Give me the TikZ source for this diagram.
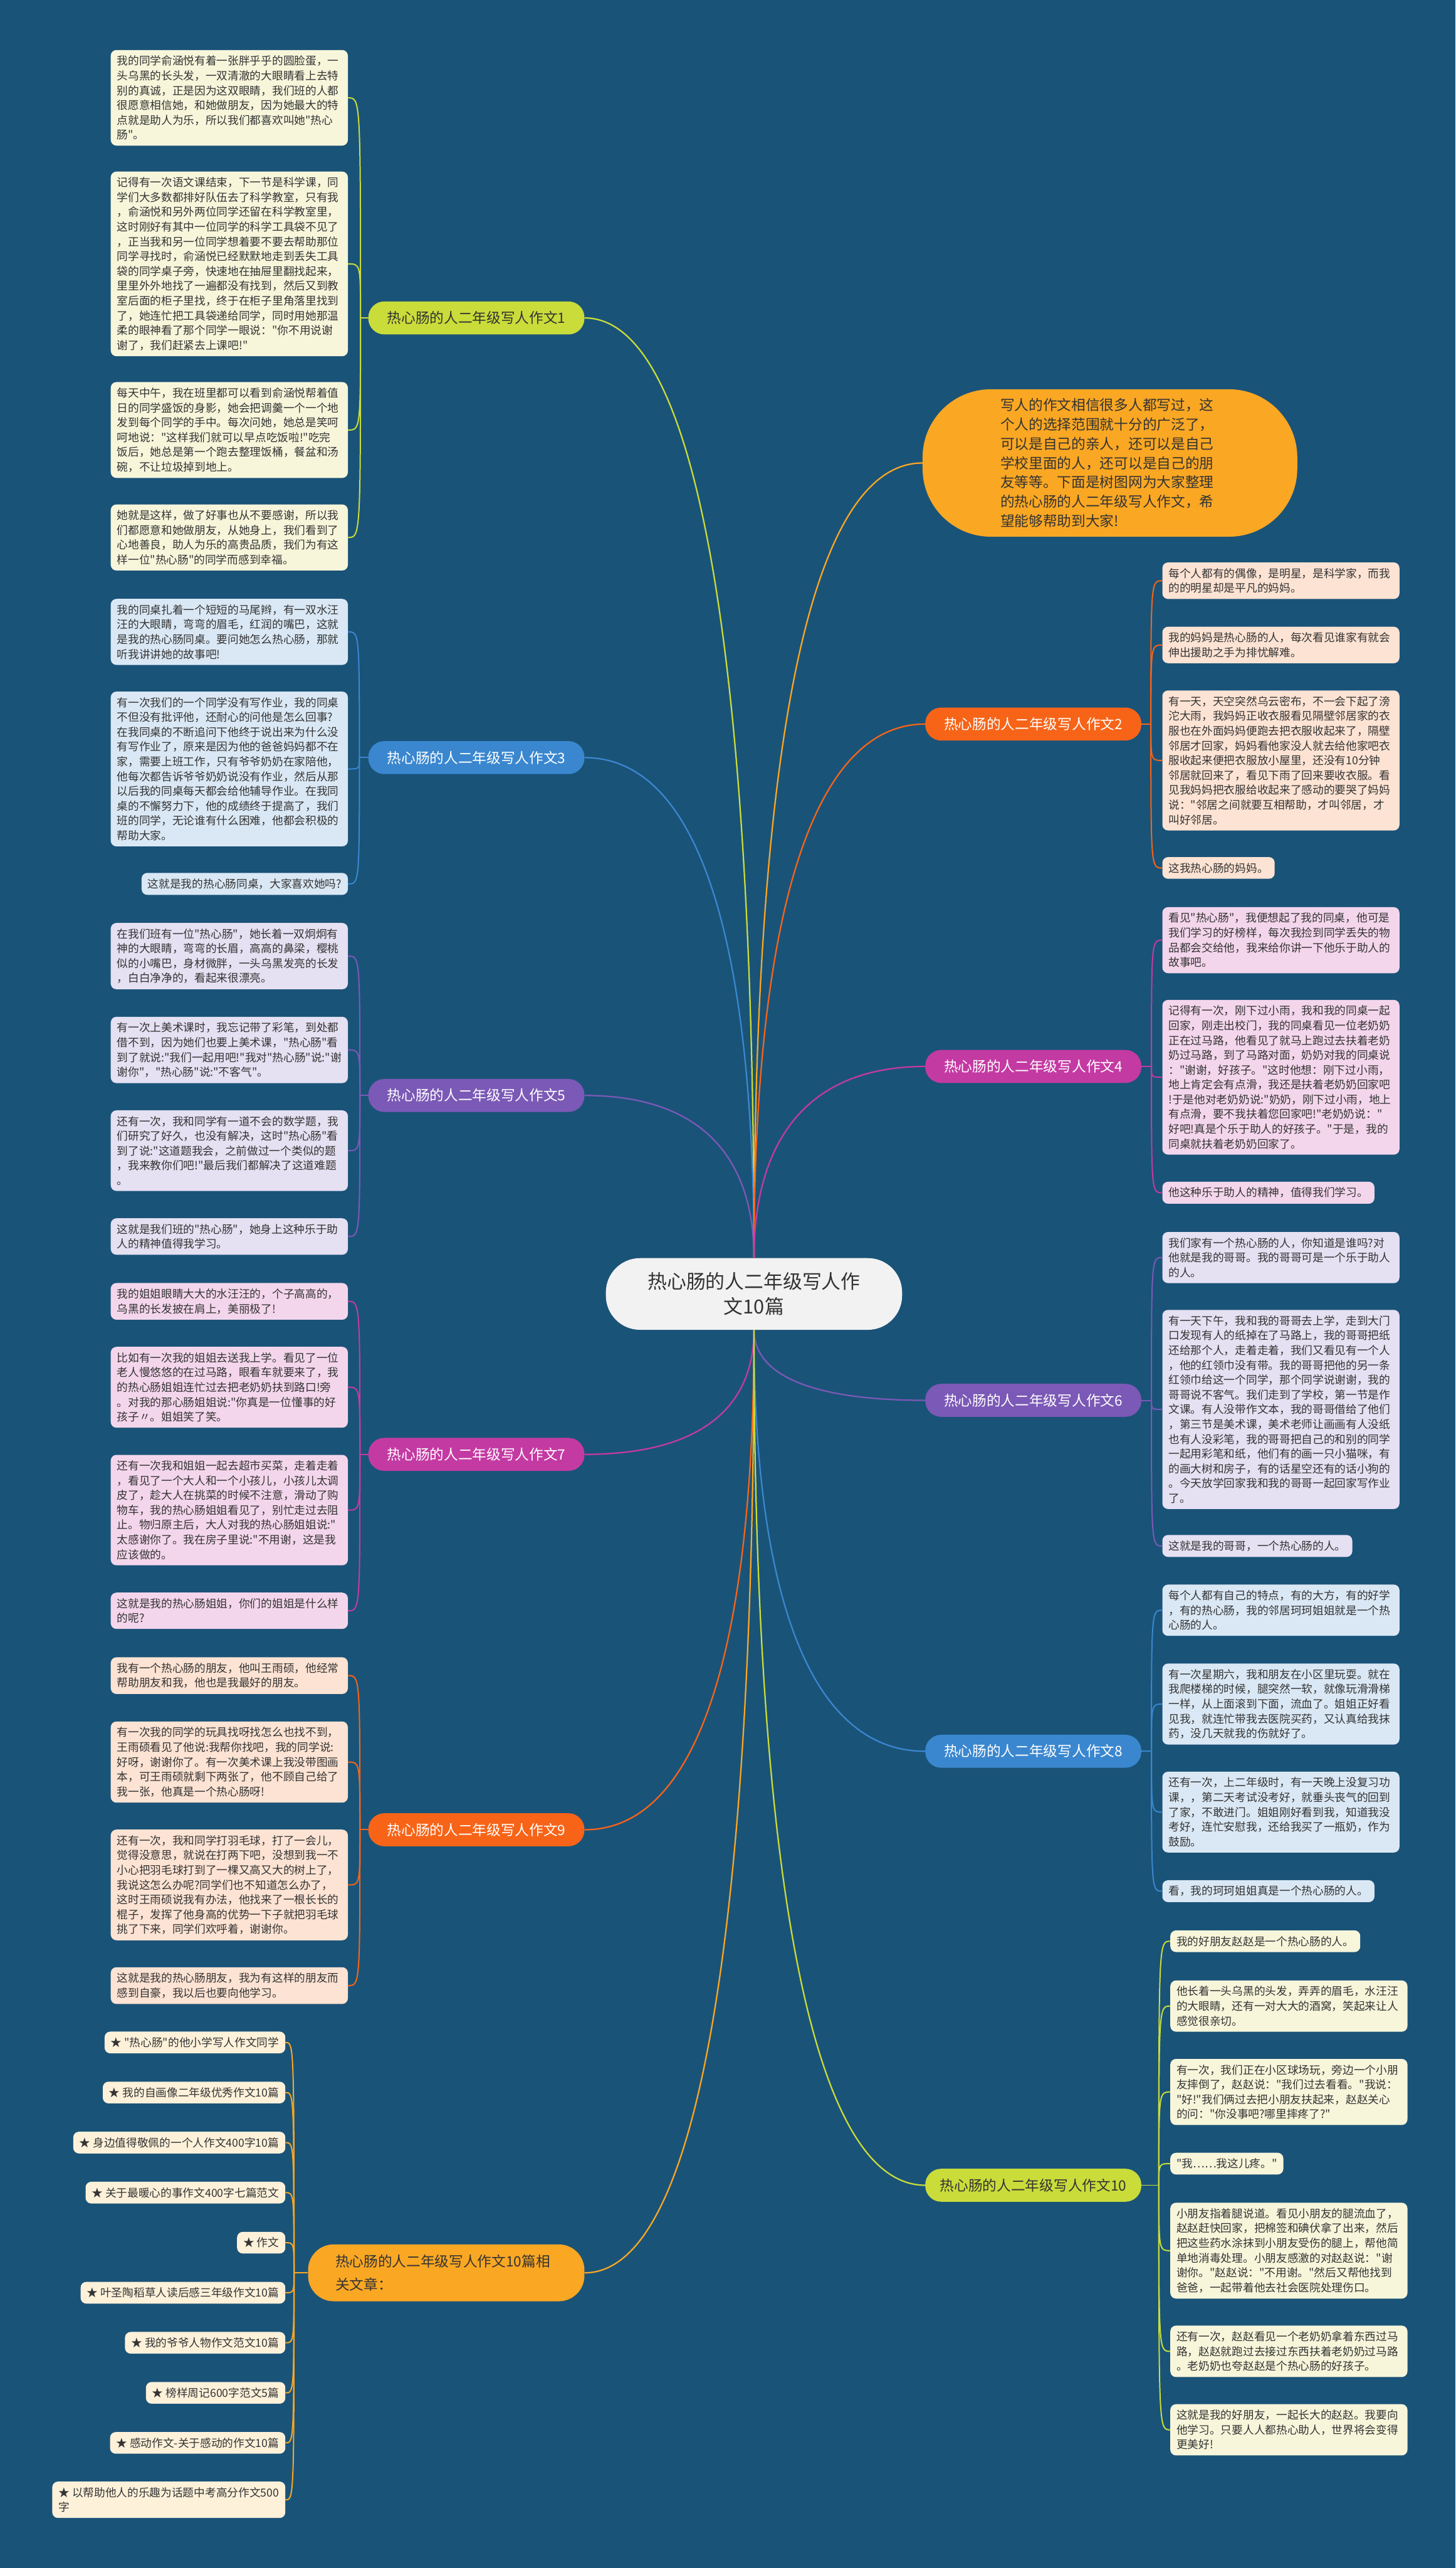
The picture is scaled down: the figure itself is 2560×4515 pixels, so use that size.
\documentclass[tikz,border=0pt]{standalone}
\usepackage{fontspec}
\newfontfamily\cjk{Noto Sans CJK SC}
\usetikzlibrary{positioning}

\definecolor{bg}{RGB}{26,83,120}
\definecolor{txt}{RGB}{51,51,51}
\definecolor{cgreen}{RGB}{201,220,58}
\definecolor{corange}{RGB}{247,100,24}
\definecolor{cblue}{RGB}{58,135,207}
\definecolor{cmagenta}{RGB}{196,58,163}
\definecolor{cpurple}{RGB}{123,89,182}
\definecolor{cgold}{RGB}{250,167,35}
\definecolor{fgreen}{RGB}{247,246,219}
\definecolor{forange}{RGB}{253,227,211}
\definecolor{fblue}{RGB}{218,232,245}
\definecolor{fmagenta}{RGB}{244,214,236}
\definecolor{fpurple}{RGB}{229,224,242}
\definecolor{fgold}{RGB}{253,241,218}
\definecolor{fmain}{RGB}{242,242,242}

\begin{document}
\begin{tikzpicture}[x=1pt, y=-1pt,
  leafbox/.style={rectangle, rounded corners=10pt, inner xsep=11pt, inner ysep=10pt, align=left, text=txt, font=\cjk\fontsize{19.5}{26}\selectfont},
  leaf/.style={leafbox, text width=395pt},
  branch/.style={rectangle, rounded corners=28pt, minimum width=380pt, minimum height=58pt, inner xsep=20pt, text=white, font=\cjk\fontsize{25}{30}\selectfont},
  link/.style={line width=2.5pt},
  twig/.style={line width=2.2pt}] %koordinate su u pikselima, y ide prema dolje

\fill[bg] (0,0) rectangle (2560,4515);
\useasboundingbox (0,0) rectangle (2560,4515);

%sredisnji cvor i uvod
\node (main) [fill=fmain, rounded corners=60pt, minimum width=521pt, minimum height=126pt, align=center, text=txt, font=\cjk\fontsize{34}{44}\selectfont] at (1326,2275) {热心肠的人二年级写人作\\文10篇};
\node (intro) [fill=cgold, rounded corners=120pt, text width=385pt, inner xsep=137pt, inner ysep=16pt, align=left, text=txt, font=\cjk\fontsize{25}{34}\selectfont] at (1952,814) {写人的作文相信很多人都写过，这\\个人的选择范围就十分的广泛了，\\可以是自己的亲人，还可以是自己\\学校里面的人，还可以是自己的朋\\友等等。下面是树图网为大家整理\\的热心肠的人二年级写人作文，希\\望能够帮助到大家!};

%grane lijevo
\node (b1) [branch, fill=cgreen, text=txt, anchor=east] at (1028,559) {热心肠的人二年级写人作文1};
\node (b3) [branch, fill=cblue, anchor=east] at (1028,1332) {热心肠的人二年级写人作文3};
\node (b5) [branch, fill=cpurple, anchor=east] at (1028,1926) {热心肠的人二年级写人作文5};
\node (b7) [branch, fill=cmagenta, anchor=east] at (1028,2557) {热心肠的人二年级写人作文7};
\node (b9) [branch, fill=corange, anchor=east] at (1028,3217) {热心肠的人二年级写人作文9};
\node (b11) [branch, fill=cgold, text=txt, anchor=east, text width=390pt, inner xsep=48pt, inner ysep=10pt, align=left, rounded corners=45pt, minimum height=100pt, font=\cjk\fontsize{25}{40}\selectfont] at (1028,3996) {热心肠的人二年级写人作文10篇相\\关文章：};

%grane desno
\node (b2) [branch, fill=corange, anchor=west] at (1627,1273) {热心肠的人二年级写人作文2};
\node (b4) [branch, fill=cmagenta, anchor=west] at (1627,1875) {热心肠的人二年级写人作文4};
\node (b6) [branch, fill=cpurple, anchor=west] at (1627,2462) {热心肠的人二年级写人作文6};
\node (b8) [branch, fill=cblue, anchor=west] at (1627,3079) {热心肠的人二年级写人作文8};
\node (b10) [branch, fill=cgreen, text=txt, anchor=west] at (1627,3842) {热心肠的人二年级写人作文10};

%listovi grane 1
\node (l1a) [leaf, fill=fgreen, anchor=east] at (612,172) {我的同学俞涵悦有着一张胖乎乎的圆脸蛋，一\\头乌黑的长头发，一双清澈的大眼睛看上去特\\别的真诚，正是因为这双眼睛，我们班的人都\\很愿意相信她，和她做朋友，因为她最大的特\\点就是助人为乐，所以我们都喜欢叫她"热心\\肠"。};
\node (l1b) [leaf, fill=fgreen, anchor=east] at (612,464) {记得有一次语文课结束，下一节是科学课，同\\学们大多数都排好队伍去了科学教室，只有我\\，俞涵悦和另外两位同学还留在科学教室里，\\这时刚好有其中一位同学的科学工具袋不见了\\，正当我和另一位同学想着要不要去帮助那位\\同学寻找时，俞涵悦已经默默地走到丢失工具\\袋的同学桌子旁，快速地在抽屉里翻找起来，\\里里外外地找了一遍都没有找到，然后又到教\\室后面的柜子里找，终于在柜子里角落里找到\\了，她连忙把工具袋递给同学，同时用她那温\\柔的眼神看了那个同学一眼说："你不用说谢\\谢了，我们赶紧去上课吧!"};
\node (l1c) [leaf, fill=fgreen, anchor=east] at (612,756) {每天中午，我在班里都可以看到俞涵悦帮着值\\日的同学盛饭的身影，她会把调羹一个一个地\\发到每个同学的手中。每次问她，她总是笑呵\\呵地说："这样我们就可以早点吃饭啦!"吃完\\饭后，她总是第一个跑去整理饭桶，餐盆和汤\\碗，不让垃圾掉到地上。};
\node (l1d) [leaf, fill=fgreen, anchor=east] at (612,945) {她就是这样，做了好事也从不要感谢，所以我\\们都愿意和她做朋友，从她身上，我们看到了\\心地善良，助人为乐的高贵品质，我们为有这\\样一位"热心肠"的同学而感到幸福。};

%listovi grane 3
\node (l3a) [leaf, fill=fblue, anchor=east] at (612,1111) {我的同桌扎着一个短短的马尾辫，有一双水汪\\汪的大眼睛，弯弯的眉毛，红润的嘴巴，这就\\是我的热心肠同桌。要问她怎么热心肠，那就\\听我讲讲她的故事吧!};
\node (l3b) [leaf, fill=fblue, anchor=east] at (612,1352) {有一次我们的一个同学没有写作业，我的同桌\\不但没有批评他，还耐心的问他是怎么回事?\\在我同桌的不断追问下他终于说出来为什么没\\有写作业了，原来是因为他的爸爸妈妈都不在\\家，需要上班工作，只有爷爷奶奶在家陪他，\\他每次都告诉爷爷奶奶说没有作业，然后从那\\以后我的同桌每天都会给他辅导作业。在我同\\桌的不懈努力下，他的成绩终于提高了，我们\\班的同学，无论谁有什么困难，他都会积极的\\帮助大家。};
\node (l3c) [leafbox, fill=fblue, anchor=east] at (612,1554) {这就是我的热心肠同桌，大家喜欢她吗?};

%listovi grane 5
\node (l5a) [leaf, fill=fpurple, anchor=east] at (612,1681) {在我们班有一位"热心肠"，她长着一双炯炯有\\神的大眼睛，弯弯的长眉，高高的鼻梁，樱桃\\似的小嘴巴，身材微胖，一头乌黑发亮的长发\\，白白净净的，看起来很漂亮。};
\node (l5b) [leaf, fill=fpurple, anchor=east] at (612,1846) {有一次上美术课时，我忘记带了彩笔，到处都\\借不到，因为她们也要上美术课，"热心肠"看\\到了就说:"我们一起用吧!"我对"热心肠"说:"谢\\谢你"，"热心肠"说:"不客气"。};
\node (l5c) [leaf, fill=fpurple, anchor=east] at (612,2023) {还有一次，我和同学有一道不会的数学题，我\\们研究了好久，也没有解决，这时"热心肠"看\\到了说:"这道题我会，之前做过一个类似的题\\，我来教你们吧!"最后我们都解决了这道难题\\。};
\node (l5d) [leaf, fill=fpurple, anchor=east] at (612,2174) {这就是我们班的"热心肠"，她身上这种乐于助\\人的精神值得我学习。};

%listovi grane 7
\node (l7a) [leaf, fill=fmagenta, anchor=east] at (612,2288) {我的姐姐眼睛大大的水汪汪的，个子高高的，\\乌黑的长发披在肩上，美丽极了!};
\node (l7b) [leaf, fill=fmagenta, anchor=east] at (612,2439) {比如有一次我的姐姐去送我上学。看见了一位\\老人慢悠悠的在过马路，眼看车就要来了，我\\的热心肠姐姐连忙过去把老奶奶扶到路口!旁\\。对我的那心肠姐姐说:"你真是一位懂事的好\\孩子〃。姐姐笑了笑。};
\node (l7c) [leaf, fill=fmagenta, anchor=east] at (612,2655) {还有一次我和姐姐一起去超市买菜，走着走着\\，看见了一个大人和一个小孩儿，小孩儿太调\\皮了，趁大人在挑菜的时候不注意，滑动了购\\物车，我的热心肠姐姐看见了，别忙走过去阻\\止。物归原主后，大人对我的热心肠姐姐说:"\\太感谢你了。我在房子里说:"不用谢，这是我\\应该做的。};
\node (l7d) [leaf, fill=fmagenta, anchor=east] at (612,2832) {这就是我的热心肠姐姐，你们的姐姐是什么样\\的呢?};

%listovi grane 9
\node (l9a) [leaf, fill=forange, anchor=east] at (612,2946) {我有一个热心肠的朋友，他叫王雨硕，他经常\\帮助朋友和我，他也是我最好的朋友。};
\node (l9b) [leaf, fill=forange, anchor=east] at (612,3098) {有一次我的同学的玩具找呀找怎么也找不到，\\王雨硕看见了他说:我帮你找吧，我的同学说:\\好呀，谢谢你了。有一次美术课上我没带图画\\本，可王雨硕就剩下两张了，他不顾自己给了\\我一张，他真是一个热心肠呀!};
\node (l9c) [leaf, fill=forange, anchor=east] at (612,3314) {还有一次，我和同学打羽毛球，打了一会儿，\\觉得没意思，就说在打两下吧，没想到我一不\\小心把羽毛球打到了一棵又高又大的树上了，\\我说这怎么办呢?同学们也不知道怎么办了，\\这时王雨硕说我有办法，他找来了一根长长的\\棍子，发挥了他身高的优势一下子就把羽毛球\\挑了下来，同学们欢呼着，谢谢你。};
\node (l9d) [leaf, fill=forange, anchor=east] at (612,3491) {这就是我的热心肠朋友，我为有这样的朋友而\\感到自豪，我以后也要向他学习。};

%povezani clanci
\node (r1) [leafbox, fill=fgold, anchor=east] at (502,3591) {★ "热心肠"的他小学写人作文同学};
\node (r2) [leafbox, fill=fgold, anchor=east] at (502,3679) {★ 我的自画像二年级优秀作文10篇};
\node (r3) [leafbox, fill=fgold, anchor=east] at (502,3767) {★ 身边值得敬佩的一个人作文400字10篇};
\node (r4) [leafbox, fill=fgold, anchor=east] at (502,3855) {★ 关于最暖心的事作文400字七篇范文};
\node (r5) [leafbox, fill=fgold, anchor=east] at (502,3943) {★ 作文};
\node (r6) [leafbox, fill=fgold, anchor=east] at (502,4031) {★ 叶圣陶稻草人读后感三年级作文10篇};
\node (r7) [leafbox, fill=fgold, anchor=east] at (502,4119) {★ 我的爷爷人物作文范文10篇};
\node (r8) [leafbox, fill=fgold, anchor=east] at (502,4207) {★ 榜样周记600字范文5篇};
\node (r9) [leafbox, fill=fgold, anchor=east] at (502,4295) {★ 感动作文-关于感动的作文10篇};
\node (r10) [leafbox, fill=fgold, anchor=east] at (502,4395) {★ 以帮助他人的乐趣为话题中考高分作文500\\字};

%listovi grane 2
\node (l2a) [leaf, fill=forange, anchor=west] at (2044,1021) {每个人都有的偶像，是明星，是科学家，而我\\的的明星却是平凡的妈妈。};
\node (l2b) [leaf, fill=forange, anchor=west] at (2044,1134) {我的妈妈是热心肠的人，每次看见谁家有就会\\伸出援助之手为排忧解难。};
\node (l2c) [leaf, fill=forange, anchor=west] at (2044,1337) {有一天，天空突然乌云密布，不一会下起了滂\\沱大雨，我妈妈正收衣服看见隔壁邻居家的衣\\服也在外面妈妈便跑去把衣服收起来了，隔壁\\邻居才回家，妈妈看他家没人就去给他家吧衣\\服收起来便把衣服放小屋里，还没有10分钟\\邻居就回来了，看见下雨了回来要收衣服。看\\见我妈妈把衣服给收起来了感动的要哭了妈妈\\说："邻居之间就要互相帮助，才叫邻居，才\\叫好邻居。};
\node (l2d) [leafbox, fill=forange, anchor=west] at (2044,1526) {这我热心肠的妈妈。};

%listovi grane 4
\node (l4a) [leaf, fill=fmagenta, anchor=west] at (2044,1653) {看见"热心肠"，我便想起了我的同桌，他可是\\我们学习的好榜样，每次我捡到同学丢失的物\\品都会交给他，我来给你讲一下他乐于助人的\\故事吧。};
\node (l4b) [leaf, fill=fmagenta, anchor=west] at (2044,1894) {记得有一次，刚下过小雨，我和我的同桌一起\\回家，刚走出校门，我的同桌看见一位老奶奶\\正在过马路，他看见了就马上跑过去扶着老奶\\奶过马路，到了马路对面，奶奶对我的同桌说\\："谢谢，好孩子。"这时他想：刚下过小雨，\\地上肯定会有点滑，我还是扶着老奶奶回家吧\\!于是他对老奶奶说:"奶奶，刚下过小雨，地上\\有点滑，要不我扶着您回家吧!"老奶奶说："\\好吧!真是个乐于助人的好孩子。"于是，我的\\同桌就扶着老奶奶回家了。};
\node (l4c) [leafbox, fill=fmagenta, anchor=west] at (2044,2097) {他这种乐于助人的精神，值得我们学习。};

%listovi grane 6
\node (l6a) [leaf, fill=fpurple, anchor=west] at (2044,2211) {我们家有一个热心肠的人，你知道是谁吗?对\\他就是我的哥哥。我的哥哥可是一个乐于助人\\的人。};
\node (l6b) [leaf, fill=fpurple, anchor=west] at (2044,2478) {有一天下午，我和我的哥哥去上学，走到大门\\口发现有人的纸掉在了马路上，我的哥哥把纸\\还给那个人，走着走着，我们又看见有一个人\\，他的红领巾没有带。我的哥哥把他的另一条\\红领巾给这一个同学，那个同学说谢谢，我的\\哥哥说不客气。我们走到了学校，第一节是作\\文课。有人没带作文本，我的哥哥借给了他们\\，第三节是美术课，美术老师让画画有人没纸\\也有人没彩笔，我的哥哥把自己的和别的同学\\一起用彩笔和纸，他们有的画一只小猫咪，有\\的画大树和房子，有的话星空还有的话小狗的\\。今天放学回家我和我的哥哥一起回家写作业\\了。};
\node (l6c) [leafbox, fill=fpurple, anchor=west] at (2044,2718) {这就是我的哥哥，一个热心肠的人。};

%listovi grane 8
\node (l8a) [leaf, fill=fblue, anchor=west] at (2044,2831) {每个人都有自己的特点，有的大方，有的好学\\，有的热心肠，我的邻居珂珂姐姐就是一个热\\心肠的人。};
\node (l8b) [leaf, fill=fblue, anchor=west] at (2044,2996) {有一次星期六，我和朋友在小区里玩耍。就在\\我爬楼梯的时候，腿突然一软，就像玩滑滑梯\\一样，从上面滚到下面，流血了。姐姐正好看\\见我，就连忙带我去医院买药，又认真给我抹\\药，没几天就我的伤就好了。};
\node (l8c) [leaf, fill=fblue, anchor=west] at (2044,3186) {还有一次，上二年级时，有一天晚上没复习功\\课，，第二天考试没考好，就垂头丧气的回到\\了家，不敢进门。姐姐刚好看到我，知道我没\\考好，连忙安慰我，还给我买了一瓶奶，作为\\鼓励。};
\node (l8d) [leafbox, fill=fblue, anchor=west] at (2044,3325) {看，我的珂珂姐姐真是一个热心肠的人。};

%listovi grane 10
\node (l10a) [leafbox, fill=fgreen, anchor=west] at (2058,3413) {我的好朋友赵赵是一个热心肠的人。};
\node (l10b) [leaf, fill=fgreen, anchor=west] at (2058,3527) {他长着一头乌黑的头发，弄弄的眉毛，水汪汪\\的大眼睛，还有一对大大的酒窝，笑起来让人\\感觉很亲切。};
\node (l10c) [leaf, fill=fgreen, anchor=west] at (2058,3678) {有一次，我们正在小区球场玩，旁边一个小朋\\友摔倒了，赵赵说："我们过去看看。"我说：\\"好!"我们俩过去把小朋友扶起来，赵赵关心\\的问："你没事吧?哪里摔疼了?"};
\node (l10d) [leafbox, fill=fgreen, anchor=west] at (2058,3804) {"我……我这儿疼。"};
\node (l10e) [leaf, fill=fgreen, anchor=west] at (2058,3957) {小朋友指着腿说道。看见小朋友的腿流血了，\\赵赵赶快回家，把棉签和碘伏拿了出来，然后\\把这些药水涂抹到小朋友受伤的腿上，帮他简\\单地消毒处理。小朋友感激的对赵赵说："谢\\谢你。"赵赵说："不用谢。"然后又帮他找到\\爸爸，一起带着他去社会医院处理伤口。};
\node (l10f) [leaf, fill=fgreen, anchor=west] at (2058,4134) {还有一次，赵赵看见一个老奶奶拿着东西过马\\路，赵赵就跑过去接过东西扶着老奶奶过马路\\。老奶奶也夸赵赵是个热心肠的好孩子。};
\node (l10g) [leaf, fill=fgreen, anchor=west] at (2058,4272) {这就是我的好朋友，一起长大的赵赵。我要向\\他学习。只要人人都热心助人，世界将会变得\\更美好!};

%veze od sredisnjeg cvora prema granama
\draw[link, cgreen] (main.north) .. controls +(0,-992) and +(210,0) .. (b1.east);
\draw[link, cblue] (main.north) .. controls +(0,-529) and +(210,0) .. (b3.east);
\draw[link, cpurple] (main.north) .. controls +(0,-172) and +(210,0) .. (b5.east);
\draw[link, cgold] (main.north) .. controls +(0,-839) and +(-210,0) .. (intro.west);
\draw[link, corange] (main.north) .. controls +(0,-564) and +(-210,0) .. (b2.west);
\draw[link, cmagenta] (main.north) .. controls +(0,-203) and +(-210,0) .. (b4.west);
\draw[link, cmagenta] (main.south) .. controls +(0,132) and +(210,0) .. (b7.east);
\draw[link, corange] (main.south) .. controls +(0,528) and +(210,0) .. (b9.east);
\draw[link, cgold] (main.south) .. controls +(0,995) and +(210,0) .. (b11.east);
\draw[link, cpurple] (main.south) .. controls +(0,75) and +(-210,0) .. (b6.west);
\draw[link, cblue] (main.south) .. controls +(0,445) and +(-210,0) .. (b8.west);
\draw[link, cgreen] (main.south) .. controls +(0,903) and +(-210,0) .. (b10.west);

%veze od grana prema listovima
\coordinate (s1) at (634,559);
\draw[twig, cgreen] (b1.west) -- (s1);
\draw[twig, cgreen] (s1) .. controls (s1 |- l1a.east) .. (l1a.east);
\draw[twig, cgreen] (s1) .. controls (s1 |- l1b.east) .. (l1b.east);
\draw[twig, cgreen] (s1) .. controls (s1 |- l1c.east) .. (l1c.east);
\draw[twig, cgreen] (s1) .. controls (s1 |- l1d.east) .. (l1d.east);

\coordinate (s3) at (632,1332);
\draw[twig, cblue] (b3.west) -- (s3);
\draw[twig, cblue] (s3) .. controls (s3 |- l3a.east) .. (l3a.east);
\draw[twig, cblue] (s3) .. controls (s3 |- l3b.east) .. (l3b.east);
\draw[twig, cblue] (s3) .. controls (s3 |- l3c.east) .. (l3c.east);

\coordinate (s5) at (633,1926);
\draw[twig, cpurple] (b5.west) -- (s5);
\draw[twig, cpurple] (s5) .. controls (s5 |- l5a.east) .. (l5a.east);
\draw[twig, cpurple] (s5) .. controls (s5 |- l5b.east) .. (l5b.east);
\draw[twig, cpurple] (s5) .. controls (s5 |- l5c.east) .. (l5c.east);
\draw[twig, cpurple] (s5) .. controls (s5 |- l5d.east) .. (l5d.east);

\coordinate (s7) at (633,2557);
\draw[twig, cmagenta] (b7.west) -- (s7);
\draw[twig, cmagenta] (s7) .. controls (s7 |- l7a.east) .. (l7a.east);
\draw[twig, cmagenta] (s7) .. controls (s7 |- l7b.east) .. (l7b.east);
\draw[twig, cmagenta] (s7) .. controls (s7 |- l7c.east) .. (l7c.east);
\draw[twig, cmagenta] (s7) .. controls (s7 |- l7d.east) .. (l7d.east);

\coordinate (s9) at (633,3217);
\draw[twig, corange] (b9.west) -- (s9);
\draw[twig, corange] (s9) .. controls (s9 |- l9a.east) .. (l9a.east);
\draw[twig, corange] (s9) .. controls (s9 |- l9b.east) .. (l9b.east);
\draw[twig, corange] (s9) .. controls (s9 |- l9c.east) .. (l9c.east);
\draw[twig, corange] (s9) .. controls (s9 |- l9d.east) .. (l9d.east);

\coordinate (s11) at (517,3996);
\draw[twig, cgold] (b11.west) -- (s11);
\draw[twig, cgold] (s11) .. controls (s11 |- r1.east) .. (r1.east);
\draw[twig, cgold] (s11) .. controls (s11 |- r2.east) .. (r2.east);
\draw[twig, cgold] (s11) .. controls (s11 |- r3.east) .. (r3.east);
\draw[twig, cgold] (s11) .. controls (s11 |- r4.east) .. (r4.east);
\draw[twig, cgold] (s11) .. controls (s11 |- r5.east) .. (r5.east);
\draw[twig, cgold] (s11) .. controls (s11 |- r6.east) .. (r6.east);
\draw[twig, cgold] (s11) .. controls (s11 |- r7.east) .. (r7.east);
\draw[twig, cgold] (s11) .. controls (s11 |- r8.east) .. (r8.east);
\draw[twig, cgold] (s11) .. controls (s11 |- r9.east) .. (r9.east);
\draw[twig, cgold] (s11) .. controls (s11 |- r10.east) .. (r10.east);

\coordinate (s2) at (2024,1273);
\draw[twig, corange] (b2.east) -- (s2);
\draw[twig, corange] (s2) .. controls (s2 |- l2a.west) .. (l2a.west);
\draw[twig, corange] (s2) .. controls (s2 |- l2b.west) .. (l2b.west);
\draw[twig, corange] (s2) .. controls (s2 |- l2c.west) .. (l2c.west);
\draw[twig, corange] (s2) .. controls (s2 |- l2d.west) .. (l2d.west);

\coordinate (s4) at (2025,1875);
\draw[twig, cmagenta] (b4.east) -- (s4);
\draw[twig, cmagenta] (s4) .. controls (s4 |- l4a.west) .. (l4a.west);
\draw[twig, cmagenta] (s4) .. controls (s4 |- l4b.west) .. (l4b.west);
\draw[twig, cmagenta] (s4) .. controls (s4 |- l4c.west) .. (l4c.west);

\coordinate (s6) at (2025,2462);
\draw[twig, cpurple] (b6.east) -- (s6);
\draw[twig, cpurple] (s6) .. controls (s6 |- l6a.west) .. (l6a.west);
\draw[twig, cpurple] (s6) .. controls (s6 |- l6b.west) .. (l6b.west);
\draw[twig, cpurple] (s6) .. controls (s6 |- l6c.west) .. (l6c.west);

\coordinate (s8) at (2025,3079);
\draw[twig, cblue] (b8.east) -- (s8);
\draw[twig, cblue] (s8) .. controls (s8 |- l8a.west) .. (l8a.west);
\draw[twig, cblue] (s8) .. controls (s8 |- l8b.west) .. (l8b.west);
\draw[twig, cblue] (s8) .. controls (s8 |- l8c.west) .. (l8c.west);
\draw[twig, cblue] (s8) .. controls (s8 |- l8d.west) .. (l8d.west);

\coordinate (s10) at (2038,3842);
\draw[twig, cgreen] (b10.east) -- (s10);
\draw[twig, cgreen] (s10) .. controls (s10 |- l10a.west) .. (l10a.west);
\draw[twig, cgreen] (s10) .. controls (s10 |- l10b.west) .. (l10b.west);
\draw[twig, cgreen] (s10) .. controls (s10 |- l10c.west) .. (l10c.west);
\draw[twig, cgreen] (s10) .. controls (s10 |- l10d.west) .. (l10d.west);
\draw[twig, cgreen] (s10) .. controls (s10 |- l10e.west) .. (l10e.west);
\draw[twig, cgreen] (s10) .. controls (s10 |- l10f.west) .. (l10f.west);
\draw[twig, cgreen] (s10) .. controls (s10 |- l10g.west) .. (l10g.west);

\end{tikzpicture}
\end{document}
